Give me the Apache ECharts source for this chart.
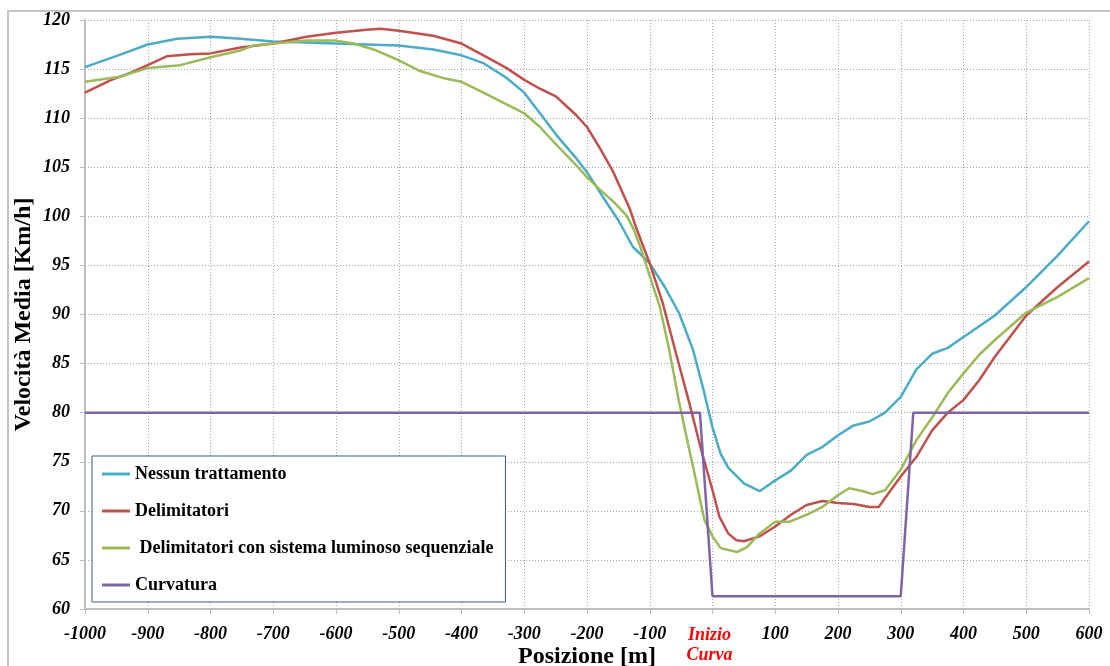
<!DOCTYPE html>
<html>
<head>
<meta charset="utf-8">
<script src="https://cdn.jsdelivr.net/npm/echarts@6/dist/echarts.min.js"></script>
<style>
  html, body { margin: 0; padding: 0; background: #fff; }
  #chart { width: 1110px; height: 666px; }
</style>
</head>
<body>
<div id="chart"></div>
<script>
// Nessun trattamento
var posBlue = [-1000, -947, -900, -853, -800, -752, -700, -647, -600, -551, -500, -445, -400, -365, -328, -300, -275, -249, -217, -200,
  -175, -150, -127, -100, -76, -53, -31, -15, 0, 13, 25, 50, 75, 100, 125, 150, 175, 200, 225, 250, 275, 300, 325, 350, 375, 400, 450, 500, 550, 600];
var velBlue = [115.2, 116.4, 117.5, 118.1, 118.3, 118.1, 117.8, 117.7, 117.6, 117.5, 117.4, 117.0, 116.4, 115.6, 114.1, 112.6, 110.5, 108.3, 105.9, 104.5,
  102.0, 99.6, 96.9, 95.2, 92.8, 90.1, 86.4, 82.5, 78.5, 75.8, 74.4, 72.8, 72.0, 73.1, 74.1, 75.7, 76.5, 77.7, 78.7, 79.1, 80.0, 81.6, 84.4, 86.0, 86.6, 87.7, 89.9, 92.8, 96.0, 99.5];

// Delimitatori
var posRed = [-1000, -958, -928, -900, -870, -832, -800, -752, -700, -647, -600, -551, -529, -500, -445, -400, -365, -328, -300, -275, -249, -217, -200,
  -179, -158, -132, -122, -100, -79, -58, -37, -18, 0, 11, 25, 38, 50, 75, 100, 125, 150, 175, 200, 225, 250, 265, 275, 300, 325, 350, 375, 400, 425, 450, 500, 550, 600];
var velRed = [112.6, 113.9, 114.6, 115.4, 116.3, 116.5, 116.6, 117.2, 117.6, 118.3, 118.7, 119.0, 119.1, 118.9, 118.4, 117.6, 116.4, 115.1, 113.9, 113.0, 112.2, 110.3, 109.1,
  106.9, 104.5, 100.8, 98.9, 95.2, 91.1, 86.0, 81.0, 76.2, 72.1, 69.4, 67.7, 67.0, 66.9, 67.4, 68.4, 69.6, 70.6, 71.0, 70.8, 70.7, 70.4, 70.4, 71.3, 73.5, 75.5, 78.2, 80.0, 81.3, 83.3, 85.7, 89.9, 92.8, 95.4];

// Delimitatori con sistema luminoso sequenziale
var posGreen = [-1000, -947, -900, -848, -800, -752, -732, -700, -647, -600, -572, -540, -500, -466, -430, -400, -365, -328, -300, -275, -249, -217, -200,
  -179, -158, -137, -125, -115, -100, -84, -69, -53, -39, -31, -13, 0, 13, 39, 55, 75, 100, 123, 150, 175, 200, 218, 240, 255, 275, 300, 325, 350, 375, 400, 425, 450, 475, 500, 550, 600];
var velGreen = [113.7, 114.2, 115.1, 115.4, 116.2, 116.9, 117.4, 117.6, 117.9, 117.9, 117.6, 117.0, 115.9, 114.8, 114.1, 113.7, 112.6, 111.4, 110.5, 109.1, 107.3, 105.2, 104.0,
  102.7, 101.5, 100.1, 98.6, 96.9, 93.9, 90.8, 86.4, 81.0, 76.8, 74.5, 69.1, 67.4, 66.2, 65.8, 66.3, 67.7, 68.9, 68.9, 69.6, 70.4, 71.6, 72.3, 72.0, 71.7, 72.1, 74.2, 77.2, 79.5, 82.0, 84.0, 85.9, 87.4, 88.8, 90.2, 91.8, 93.7];

// Curvatura
var posCurve = [-1000, -20, 0, 300, 320, 600];
var velCurve = [80, 80, 61.3, 61.3, 80, 80];

var seriesNames = ['Nessun trattamento', 'Delimitatori', ' Delimitatori con sistema luminoso sequenziale', 'Curvatura'];
var colors = ['#4bacc6', '#c0504d', '#9bbb59', '#8064a2'];

function pairs(xs, ys) {
  return xs.map(function (x, i) { return [x, ys[i]]; });
}

var font = 'Liberation Serif';
var chart = echarts.init(document.getElementById('chart'));

var option = {
  animation: false,
  color: colors,
  graphic: [{
    type: 'rect',
    shape: { x: 8, y: 11, width: 1200, height: 700 },
    style: { fill: 'none', stroke: '#c4c4c4', lineWidth: 2 },
    silent: true,
    z: -10
  }],
  grid: { left: 85, right: 21, top: 20, bottom: 57, outerBoundsMode: 'none', containLabel: false },
  legend: {
    orient: 'vertical',
    left: 92,
    top: 456,
    padding: [9, 12, 8, 10],
    itemGap: 19,
    itemWidth: 28,
    itemHeight: 3,
    icon: 'rect',
    backgroundColor: '#fff',
    borderColor: '#385d8a',
    borderWidth: 1,
    textStyle: { fontFamily: font, fontWeight: 'bold', fontSize: 18, color: '#000', lineHeight: 18 },
    data: seriesNames
  },
  xAxis: {
    type: 'value',
    min: -1000,
    max: 600,
    interval: 100,
    name: 'Posizione [m]',
    nameLocation: 'middle',
    nameGap: 36,
    nameMoveOverlap: false,
    nameTextStyle: { fontFamily: font, fontWeight: 'bold', fontSize: 24, color: '#000' },
    axisLine: { onZero: false, lineStyle: { color: '#bfbfbf', width: 2 } },
    axisTick: { show: true, length: 5, lineStyle: { color: '#bfbfbf', width: 1 } },
    axisLabel: {
      margin: 16,
      fontFamily: font, fontWeight: 'bold', fontStyle: 'italic', fontSize: 18, color: '#000',
      formatter: function (v) { return v === 0 ? '{r|Inizio}\n{r|Curva}' : String(v); },
      rich: { r: { color: '#ff0000', fontFamily: font, fontWeight: 'bold', fontStyle: 'italic', fontSize: 18, lineHeight: 20, padding: [0, 6, 0, 0] } }
    },
    splitLine: { show: true, lineStyle: { color: '#a6a6a6', type: [1, 2], width: 1 } }
  },
  yAxis: {
    type: 'value',
    min: 60,
    max: 120,
    interval: 5,
    name: 'Velocità Media [Km/h]',
    nameLocation: 'middle',
    nameRotate: 90,
    nameGap: 49,
    nameMoveOverlap: false,
    nameTextStyle: { fontFamily: font, fontWeight: 'bold', fontSize: 24, color: '#000' },
    axisLine: { show: true, onZero: false, lineStyle: { color: '#bfbfbf', width: 2 } },
    axisTick: { show: true, length: 5, lineStyle: { color: '#bfbfbf', width: 1 } },
    axisLabel: { margin: 15, fontFamily: font, fontWeight: 'bold', fontStyle: 'italic', fontSize: 18, color: '#000' },
    splitLine: { show: true, lineStyle: { color: '#a6a6a6', type: [1, 2], width: 1 } }
  },
  series: [
    { name: seriesNames[0], type: 'line', data: pairs(posBlue, velBlue), showSymbol: false, symbol: 'none', lineStyle: { width: 2.5 } },
    { name: seriesNames[1], type: 'line', data: pairs(posRed, velRed), showSymbol: false, symbol: 'none', lineStyle: { width: 2.5 } },
    { name: seriesNames[2], type: 'line', data: pairs(posGreen, velGreen), showSymbol: false, symbol: 'none', lineStyle: { width: 2.5 } },
    { name: seriesNames[3], type: 'line', data: pairs(posCurve, velCurve), showSymbol: false, symbol: 'none', lineStyle: { width: 2.5 } }
  ]
};

chart.setOption(option);
</script>
</body>
</html>
